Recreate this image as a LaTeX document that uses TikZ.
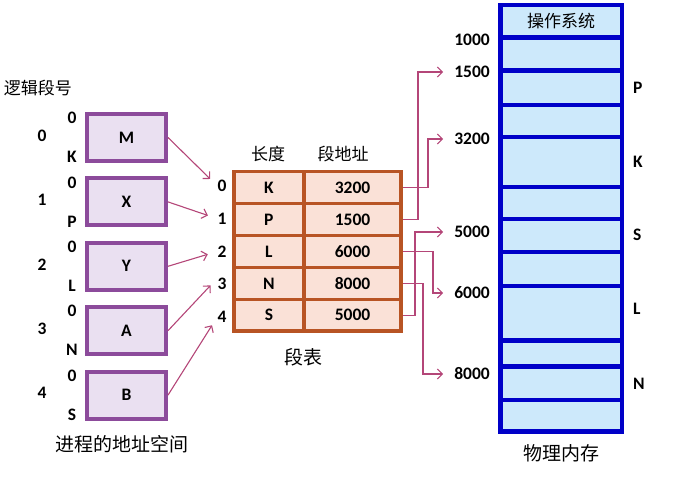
\documentclass[tikz,border=0pt]{standalone}
\usepackage{fontspec}
\setmainfont{Carlito}
\newfontfamily\cjk{Noto Sans CJK SC}
\usetikzlibrary{arrows.meta}
\definecolor{segline}{RGB}{140,75,155}
\definecolor{segfill}{RGB}{234,224,241}
\definecolor{tabline}{RGB}{184,84,36}
\definecolor{tabfill}{RGB}{250,225,215}
\definecolor{memline}{RGB}{0,0,200}
\definecolor{memfill}{RGB}{205,233,251}
\definecolor{ptr}{RGB}{180,70,120}
\begin{document}
\begin{tikzpicture}[x=1pt, y=-1pt, font=\fontsize{17.5}{20}\selectfont\bfseries]
  \tikzstyle{seg}=[draw=segline, fill=segfill, line width=4pt, minimum width=79pt, minimum height=47pt]
  \tikzstyle{cell}=[draw=tabline, fill=tabfill, line width=3.5pt, minimum height=31.9pt]
  \tikzstyle{ptr}=[draw=ptr, line width=1.1pt, -{Straight Barb[length=5pt,width=10pt]}]
  \tikzstyle{zh}=[font=\cjk\fontsize{17}{20}\selectfont]
  \tikzstyle{title}=[font=\cjk\fontsize{19}{22}\selectfont]
  \useasboundingbox (0,0) rectangle (689,502);
  % process segments
  \node[zh] (lsn) at (38,88) {逻辑段号};
  \foreach \i/\nm/\lim in {0/M/K,1/X/P,2/Y/L,3/A/N,4/B/S}{
    \node[seg] (seg\i) at (126.5,137.5+64.4*\i) {\nm};
    \node (num\i) at (42,135.5+64.4*\i) {\i};
    \node (lo\i) at (72,118+64.4*\i) {0};
    \node (hi\i) at (72,157+64.4*\i) {\lim};
  }
  \node[title] (proc) at (122,444) {进程的地址空间};
  % segment table
  \node[zh] (hlen) at (268,154) {长度};
  \node[zh] (hbase) at (343,154) {段地址};
  \foreach \i/\len/\base in {0/K/3200,1/P/1500,2/L/6000,3/N/8000,4/S/5000}{
    \node[cell, minimum width=70.25pt] (len\i) at (268.9,187.7+31.9*\i) {\len};
    \node[cell, minimum width=97.25pt] (base\i) at (352.6,187.7+31.9*\i) {\base};
    \node[inner sep=0pt] (idx\i) at (222,186+32.7*\i) {\i};
  }
  \node[title] (tab) at (303,357) {段表};
  % physical memory
  \foreach \a/\b in {5.25/37.7,37.7/70.7,70.7/105,105/137,137/187,187/219,219/252,252/286,286/340.7,340.7/366.7,366.7/400,400/431.75}
    \filldraw[draw=memline, fill=memfill, line width=4.5pt] (500.25,\a) rectangle (621.75,\b);
  \node[zh] (os) at (561,21) {操作系统};
  \node[title] (mem) at (561,453) {物理内存};
  \foreach \v/\y in {1000/40,1500/72,3200/139,5000/232,6000/293,8000/374}
    \node[anchor=east, inner sep=0pt] (m\v) at (490,\y) {\v};
  \foreach \s/\y in {P/88,K/162,S/235,L/309,N/384}
    \node[anchor=west, inner sep=0pt] (r\s) at (633,\y) {\s};
  % arrows
  \foreach \i in {0,1,2,4}
    \draw[ptr, shorten >=10pt] (seg\i.east) -- (idx\i.west);
  \draw[ptr, shorten >=10pt] (seg3.east) -- (idx3.north west);
  \draw[ptr, shorten >=11pt] (base0.east) -- ++(25,0) |- (m3200.west);
  \draw[ptr, shorten >=11pt] (base1.east) -- ++(15,0) |- (m1500.west);
  \draw[ptr, shorten >=11pt] (base2.east) -- ++(30,0) |- (m6000.west);
  \draw[ptr, shorten >=11pt] (base3.east) -- ++(20,0) |- (m8000.west);
  \draw[ptr, shorten >=11pt] (base4.east) -- ++(12,0) |- (m5000.west);
\end{tikzpicture}
\end{document}
